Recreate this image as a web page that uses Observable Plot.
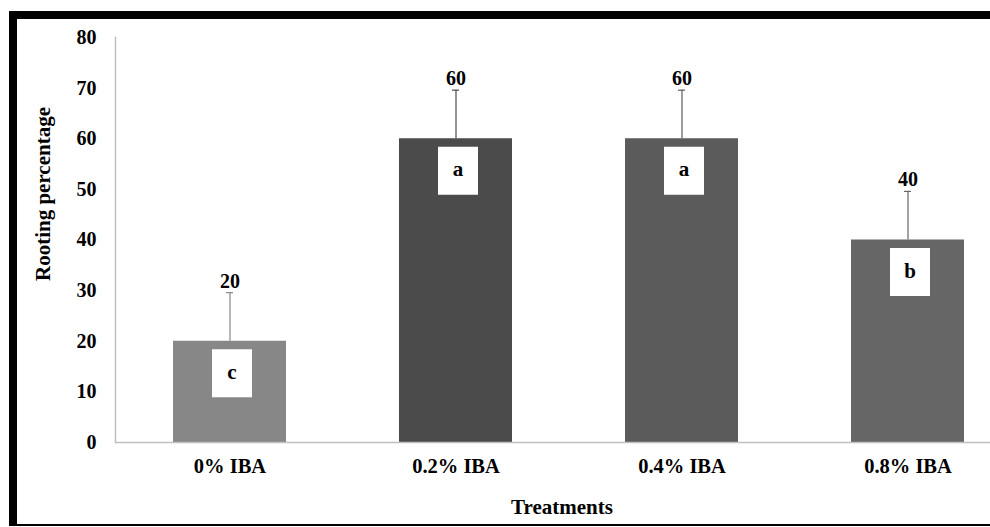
<!DOCTYPE html>
<html>
<head>
<meta charset="utf-8">
<script src="https://cdn.jsdelivr.net/npm/d3@7"></script>
<script src="https://cdn.jsdelivr.net/npm/@observablehq/plot@0.6"></script>
<style>
  html, body { margin: 0; padding: 0; background: #fff; overflow: hidden; }
  #wrap { position: relative; width: 990px; height: 527px; }
  #wrap svg { position: absolute; left: 0; top: 0; }
  #edge {
    position: absolute; left: 9px; top: 11px; width: 1000px; height: 515px;
    box-sizing: border-box; pointer-events: none;
    border-top: 8px solid #000; border-left: 8px solid #000; border-bottom: 2px solid #000;
  }
</style>
</head>
<body>
<div id="wrap"><div id="edge"></div></div>
<script>
// Rooting percentage by IBA treatment, with standard error and significance letters
const treatments = ["0% IBA", "0.2% IBA", "0.4% IBA", "0.8% IBA"];
const rootingPct = [20, 60, 60, 40];
const stdErr = [9.6, 9.6, 9.6, 9.6];
const letters = ["c", "a", "a", "b"];
const yTicks = [0, 10, 20, 30, 40, 50, 60, 70, 80];

const rows = treatments.map((t, i) => ({
  treatment: t, value: rootingPct[i], se: stdErr[i], letter: letters[i]
}));

// white label box drawn behind each significance letter
const boxSymbol = {
  draw(context) { context.rect(-20, -24, 40, 48); }
};

const font = "'Liberation Serif', 'Times New Roman', serif";

const chart = Plot.plot({
  width: 990,
  height: 527,
  marginTop: 37,
  marginBottom: 85,
  marginLeft: 115,
  marginRight: 0,
  style: { fontFamily: font, fontWeight: "bold", color: "#000", background: "transparent" },
  x: { domain: treatments, range: [115, 1021], paddingInner: 0.5, paddingOuter: 0.25 },
  y: { domain: [0, 80] },
  color: { domain: treatments, range: ["#878787", "#4b4b4b", "#5b5b5b", "#666666"] },
  marks: [
    Plot.frame({ anchor: "left", stroke: "#c0c0c0", strokeWidth: 1.5 }),
    Plot.barY(rows, { x: "treatment", y: "value", fill: "treatment" }),
    Plot.ruleY([0], { stroke: "#c0c0c0", strokeWidth: 1.5 }),
    Plot.ruleX(rows, { x: "treatment", y1: "value", y2: d => d.value + d.se, stroke: "treatment", strokeWidth: 1.2 }),
    Plot.tickY(rows, { x: "treatment", y: d => d.value + d.se, stroke: "treatment", insetLeft: 53, insetRight: 53, strokeWidth: 1.2 }),
    Plot.dot(rows, { x: "treatment", y: "value", symbol: boxSymbol, fill: "#fff", stroke: null, dy: 32, dx: 2 }),
    Plot.text(rows, { x: "treatment", y: "value", text: "letter", dy: 31, dx: 2, fontSize: 21, fill: "#000" }),
    Plot.text(rows, { x: "treatment", y: d => d.value + d.se, text: d => String(d.value), lineAnchor: "bottom", dy: -5, fontSize: 20, fill: "#000" }),
    Plot.axisX({ tickSize: 0, tickPadding: 16, label: null, fontSize: 20.5, fill: "#000" }),
    Plot.axisY({ ticks: yTicks, tickSize: 0, tickPadding: 19, label: null, fontSize: 20, fill: "#000" }),
    Plot.text(["Rooting percentage"], { frameAnchor: "left", textAnchor: "middle", lineAnchor: "middle", rotate: -90, dx: -72, dy: -46, fontSize: 21, fill: "#000" }),
    Plot.text(["Treatments"], { frameAnchor: "bottom", textAnchor: "middle", lineAnchor: "middle", dx: 9, dy: 65, fontSize: 21, fill: "#000" })
  ]
});

document.getElementById("wrap").prepend(chart);
</script>
</body>
</html>
